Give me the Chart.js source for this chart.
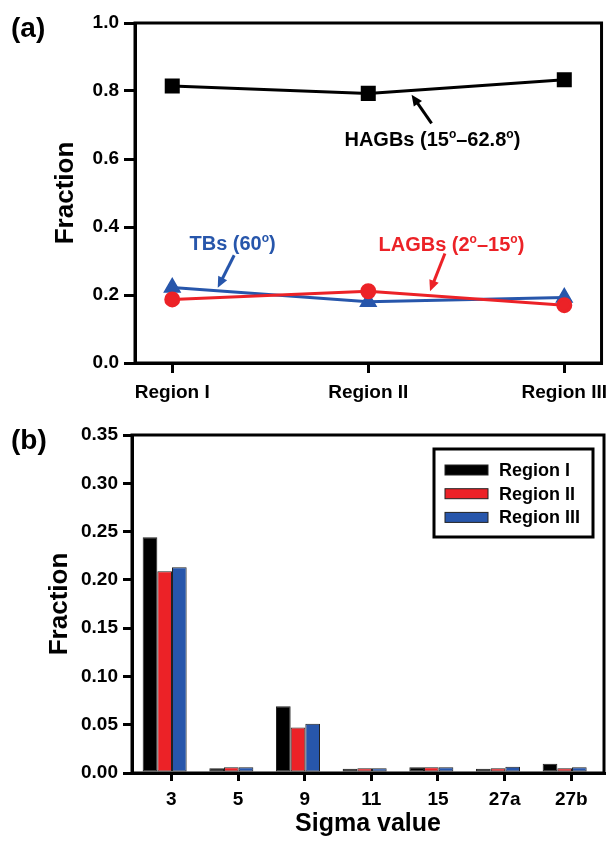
<!DOCTYPE html>
<html lang="en">
<head>
    <meta charset="UTF-8">
    <title>Grain boundary fractions</title>
    <script src="https://cdn.jsdelivr.net/npm/chart.js"></script>
    <style>
        body { margin: 0; background: #fff; }
        #wrap { position: relative; width: 616px; height: 843px; }
        canvas { position: absolute; left: 0; }
    </style>
</head>
<body>
    <div id="wrap">
        <canvas id="lineChart" width="616" height="415" style="top:0"></canvas>
        <canvas id="barChart" width="616" height="428" style="top:415px"></canvas>
    </div>

    <script>
        // ---- data (a) ----
        const regions = ['Region I', 'Region II', 'Region III'];
        const hagbs = [0.815, 0.793, 0.833];
        const tbs = [0.222, 0.180, 0.193];
        const lagbs = [0.187, 0.211, 0.170];

        // ---- data (b) ----
        const sigmaLabels = ['3', '5', '9', '11', '15', '27a', '27b'];
        const regionOne = [0.244, 0.005, 0.069, 0.0045, 0.006, 0.0045, 0.0095];
        const regionTwo = [0.209, 0.006, 0.047, 0.005, 0.006, 0.005, 0.005];
        const regionThree = [0.213, 0.006, 0.051, 0.0048, 0.006, 0.0065, 0.006];

        // annotation texts, [text, superscript?]
        const hagbText = [['HAGBs (15', false], ['o', true], ['–62.8', false], ['o', true], [')', false]];
        const tbText = [['TBs (60', false], ['o', true], [')', false]];
        const lagbText = [['LAGBs (2', false], ['o', true], ['–15', false], ['o', true], [')', false]];

        const FONT = '"Liberation Sans", Arial, sans-serif';
        const RED = '#ec2227';
        const BLUE = '#2756ab';

        Chart.defaults.font.family = FONT;
        Chart.defaults.color = '#000';

        const toXY = (vals) => vals.map((v, i) => ({ x: i, y: v }));

        function drawRich(ctx, parts, cx, cy, size, color) {
            const big = `bold ${size}px ${FONT}`;
            const small = `bold ${Math.round(size * 0.62)}px ${FONT}`;
            let w = 0;
            parts.forEach(([t, sup]) => { ctx.font = sup ? small : big; w += ctx.measureText(t).width; });
            let x = cx - w / 2;
            const base = cy + size * 0.36;
            ctx.fillStyle = color;
            ctx.textAlign = 'left';
            ctx.textBaseline = 'alphabetic';
            parts.forEach(([t, sup]) => {
                ctx.font = sup ? small : big;
                ctx.fillText(t, x, sup ? base - size * 0.42 : base);
                x += ctx.measureText(t).width;
            });
        }

        function drawArrow(ctx, x1, y1, x2, y2, color) {
            const ang = Math.atan2(y2 - y1, x2 - x1);
            const len = 11, half = 5;
            ctx.strokeStyle = color;
            ctx.fillStyle = color;
            ctx.lineWidth = 3;
            ctx.beginPath();
            ctx.moveTo(x1, y1);
            ctx.lineTo(x2 - Math.cos(ang) * len * 0.8, y2 - Math.sin(ang) * len * 0.8);
            ctx.stroke();
            ctx.beginPath();
            ctx.moveTo(x2, y2);
            ctx.lineTo(x2 - Math.cos(ang) * len - Math.sin(ang) * half, y2 - Math.sin(ang) * len + Math.cos(ang) * half);
            ctx.lineTo(x2 - Math.cos(ang) * len + Math.sin(ang) * half, y2 - Math.sin(ang) * len - Math.cos(ang) * half);
            ctx.closePath();
            ctx.fill();
        }

        // frame around the plot area
        const boxPlugin = {
            id: 'box',
            afterDraw(chart) {
                const { ctx, chartArea: a } = chart;
                ctx.save();
                ctx.lineWidth = 3;
                ctx.strokeStyle = '#000';
                ctx.strokeRect(a.left, a.top, a.right - a.left, a.bottom - a.top);
                ctx.restore();
            }
        };

        // "(a)" / "(b)"
        const panelPlugin = {
            id: 'panel',
            afterDraw(chart, args, opts) {
                const ctx = chart.ctx;
                ctx.save();
                ctx.font = `bold 28px ${FONT}`;
                ctx.fillStyle = '#000';
                ctx.textAlign = 'left';
                ctx.textBaseline = 'alphabetic';
                ctx.fillText(opts.text, 11, opts.y);
                ctx.restore();
            }
        };

        // labels with arrows, placed in data space
        const notes = [
            { parts: hagbText, color: '#000', at: [1.327, 0.659], tail: [1.323, 0.705], tip: [1.221, 0.789] },
            { parts: tbText, color: BLUE, at: [0.308, 0.353], tail: [0.316, 0.317], tip: [0.232, 0.221] },
            { parts: lagbText, color: RED, at: [1.424, 0.350], tail: [1.391, 0.322], tip: [1.315, 0.211] }
        ];
        const notePlugin = {
            id: 'notes',
            afterDatasetsDraw(chart) {
                const { ctx, scales: { x, y } } = chart;
                ctx.save();
                notes.forEach(n => {
                    drawRich(ctx, n.parts, x.getPixelForValue(n.at[0]), y.getPixelForValue(n.at[1]), 20, n.color);
                    drawArrow(ctx, x.getPixelForValue(n.tail[0]), y.getPixelForValue(n.tail[1]),
                        x.getPixelForValue(n.tip[0]), y.getPixelForValue(n.tip[1]), n.color);
                });
                ctx.restore();
            }
        };

        // boxed legend inside bar plot, top right
        const barLegend = {
            id: 'barLegend',
            afterDraw(chart) {
                const { ctx, chartArea: a } = chart;
                const w = 159, h = 88;
                const bx = a.right - 11 - w, by = a.top + 14;
                ctx.save();
                ctx.fillStyle = '#fff';
                ctx.fillRect(bx, by, w, h);
                ctx.lineWidth = 3;
                ctx.strokeStyle = '#000';
                ctx.strokeRect(bx, by, w, h);
                ctx.font = `bold 18px ${FONT}`;
                ctx.textAlign = 'left';
                ctx.textBaseline = 'middle';
                chart.data.datasets.forEach((ds, i) => {
                    const cy = by + 21 + i * 23.7;
                    ctx.fillStyle = ds.backgroundColor;
                    ctx.fillRect(bx + 11, cy - 5, 43, 10);
                    ctx.lineWidth = 1;
                    ctx.strokeStyle = '#222';
                    ctx.strokeRect(bx + 11, cy - 5, 43, 10);
                    ctx.fillStyle = '#000';
                    ctx.fillText(ds.label, bx + 65, cy + 1);
                });
                ctx.restore();
            }
        };

        const tickFont = { size: 19, weight: 'bold' };
        const gridOpts = (len) => ({
            display: true, drawOnChartArea: false, drawTicks: true, offset: false,
            tickLength: len, tickWidth: 3, tickColor: '#000', color: '#000', lineWidth: 3
        });
        const borderOpts = { display: true, color: '#000', width: 3 };

        // ---- chart (a) ----
        new Chart(document.getElementById('lineChart'), {
            type: 'line',
            data: {
                datasets: [
                    {
                        label: 'LAGBs', data: toXY(lagbs), borderColor: RED, backgroundColor: RED,
                        pointStyle: 'circle', pointRadius: 6.5, borderWidth: 3
                    },
                    {
                        label: 'TBs', data: toXY(tbs), borderColor: BLUE, backgroundColor: BLUE,
                        pointStyle: 'triangle', pointRadius: 7.5, borderWidth: 3
                    },
                    {
                        label: 'HAGBs', data: toXY(hagbs), borderColor: '#000', backgroundColor: '#000',
                        pointStyle: 'rect', pointRadius: 8.5, borderWidth: 3
                    }
                ]
            },
            options: {
                responsive: false,
                animation: false,
                layout: { padding: { left: 0, right: 12, top: 23, bottom: 0 } },
                elements: { line: { tension: 0 }, point: { borderWidth: 0 } },
                plugins: {
                    legend: { display: false },
                    tooltip: { enabled: false },
                    panel: { text: '(a)', y: 37 }
                },
                scales: {
                    x: {
                        type: 'linear', min: -0.19, max: 2.19,
                        afterBuildTicks: s => { s.ticks = regions.map((r, i) => ({ value: i })); },
                        afterFit: s => { s.height = 52; },
                        ticks: {
                            font: tickFont, color: '#000', padding: 8, autoSkip: false, maxRotation: 0,
                            callback: (v, i) => regions[i]
                        },
                        grid: gridOpts(10),
                        border: borderOpts
                    },
                    y: {
                        min: 0, max: 1,
                        afterFit: s => { s.width = 135; },
                        ticks: {
                            stepSize: 0.2, font: tickFont, color: '#000', padding: 5,
                            callback: v => v.toFixed(1)
                        },
                        grid: gridOpts(11),
                        border: borderOpts,
                        title: {
                            display: true, text: 'Fraction', color: '#000',
                            font: { size: 26, weight: 'bold' }, padding: { top: 50, bottom: 0 }
                        }
                    }
                }
            },
            plugins: [boxPlugin, panelPlugin, notePlugin]
        });

        // ---- chart (b) ----
        new Chart(document.getElementById('barChart'), {
            type: 'bar',
            data: {
                datasets: [
                    { label: 'Region I', data: toXY(regionOne), backgroundColor: '#000000' },
                    { label: 'Region II', data: toXY(regionTwo), backgroundColor: RED },
                    { label: 'Region III', data: toXY(regionThree), backgroundColor: BLUE }
                ]
            },
            options: {
                responsive: false,
                animation: false,
                layout: { padding: { left: 0, right: 12, top: 20, bottom: 0 } },
                datasets: {
                    bar: {
                        categoryPercentage: 0.66, barPercentage: 1.0,
                        borderWidth: 1, borderColor: '#222', borderSkipped: false
                    }
                },
                plugins: {
                    legend: { display: false },
                    tooltip: { enabled: false },
                    panel: { text: '(b)', y: 34 }
                },
                scales: {
                    x: {
                        type: 'linear', min: -0.49, max: 6.59, offset: false,
                        afterBuildTicks: s => { s.ticks = sigmaLabels.map((c, i) => ({ value: i + 0.1 })); },
                        afterFit: s => { s.height = 70; },
                        ticks: {
                            font: tickFont, color: '#000', padding: 7, autoSkip: false, maxRotation: 0,
                            callback: (v, i) => sigmaLabels[i]
                        },
                        grid: gridOpts(8),
                        border: borderOpts,
                        title: {
                            display: true, text: 'Sigma value', color: '#000',
                            font: { size: 25, weight: 'bold' }, padding: { top: 0, bottom: 4 }
                        }
                    },
                    y: {
                        min: 0, max: 0.35,
                        afterFit: s => { s.width = 132; },
                        ticks: {
                            stepSize: 0.05, font: tickFont, color: '#000', padding: 5,
                            callback: v => v.toFixed(2)
                        },
                        grid: gridOpts(9),
                        border: borderOpts,
                        title: {
                            display: true, text: 'Fraction', color: '#000',
                            font: { size: 26, weight: 'bold' }, padding: { top: 44, bottom: 0 }
                        }
                    }
                }
            },
            plugins: [boxPlugin, panelPlugin, barLegend]
        });
    </script>
</body>
</html>
